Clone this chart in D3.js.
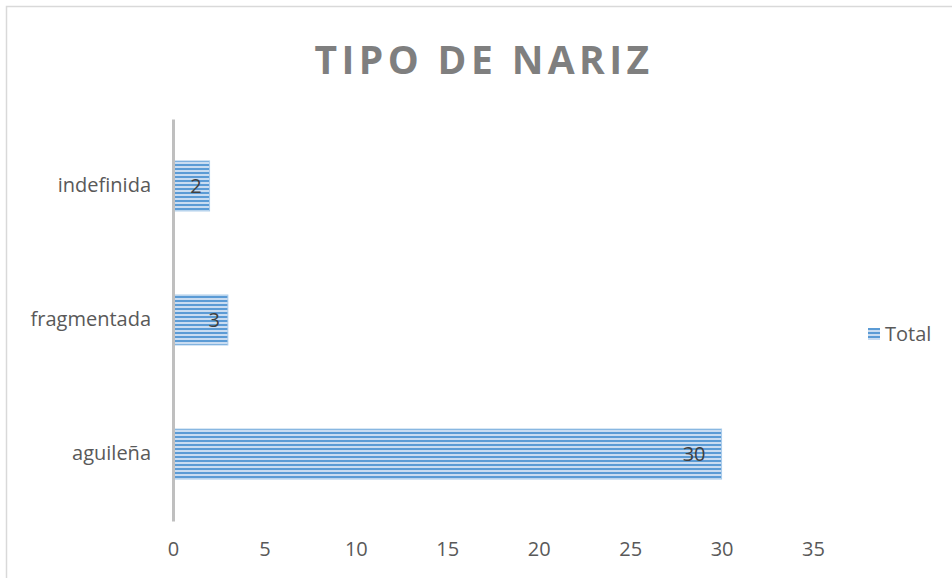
<!DOCTYPE html>
<html lang="es">
<head>
<meta charset="UTF-8">
<title>Tipo de nariz</title>
<script src="https://d3js.org/d3.v7.min.js"></script>
<style>
  body { margin: 0; background: #fff; }
  text { font-family: "Open Sans", "Noto Sans", sans-serif; fill: #595959; }
</style>
</head>
<body>
<div id="chart"></div>
<script>
// data
const categories = ["indefinida", "fragmentada", "aguileña"];
const totals = [2, 3, 30];
const xTicks = [0, 5, 10, 15, 20, 25, 30, 35];
const seriesName = "Total";
const chartTitle = "TIPO DE NARIZ";

const width = 952, height = 578;

const svg = d3.select("#chart").append("svg")
    .attr("width", width)
    .attr("height", height);

// striped fill like the original
const defs = svg.append("defs");
const pat = defs.append("pattern")
    .attr("id", "stripes")
    .attr("patternUnits", "userSpaceOnUse")
    .attr("width", 8).attr("height", 4);
pat.append("rect").attr("width", 8).attr("height", 4).attr("fill", "#c9dcf1");
pat.append("rect").attr("width", 8).attr("height", 2).attr("fill", "#5b9bd5");

// outer chart border
svg.append("rect")
    .attr("x", 6.5).attr("y", 6.5)
    .attr("width", width).attr("height", height)
    .attr("fill", "none")
    .attr("stroke", "#d9d9d9")
    .attr("stroke-width", 1.5);

// title
svg.append("text")
    .attr("x", 484).attr("y", 74)
    .attr("text-anchor", "middle")
    .style("font-size", "39px")
    .style("font-weight", "bold")
    .style("letter-spacing", "4.4px")
    .style("fill", "#7f7f7f")
    .text(chartTitle);

// scales
const x = d3.scaleLinear().domain([0, 35]).range([173, 813]);
const y = d3.scaleBand().domain(categories).range([119, 521]).paddingInner(0.627).paddingOuter(0.313);

// bars
svg.selectAll("rect.bar")
    .data(categories)
    .enter().append("rect")
    .attr("class", "bar")
    .attr("x", x(0))
    .attr("y", d => y(d))
    .attr("width", (d, i) => x(totals[i]) - x(0))
    .attr("height", y.bandwidth())
    .attr("fill", "url(#stripes)")
    .attr("stroke", "#a9cbea")
    .attr("stroke-width", 1);

// value labels
svg.selectAll("text.val")
    .data(categories)
    .enter().append("text")
    .attr("class", "val")
    .attr("x", (d, i) => x(totals[i]) - (totals[i] > 9 ? 16 : 8))
    .attr("y", d => y(d) + y.bandwidth() / 2)
    .attr("dy", "0.35em")
    .attr("text-anchor", "end")
    .style("font-size", "20px")
    .style("fill", "#404040")
    .text((d, i) => totals[i]);

// y axis (categories)
const yAxis = svg.append("g")
    .attr("transform", "translate(" + x(0) + ",0)")
    .call(d3.axisLeft(y).tickSize(0).tickPadding(22));
yAxis.select(".domain").attr("stroke", "#bfbfbf").attr("stroke-width", 3);
yAxis.selectAll("text").style("font-size", "20px").style("fill", "#595959")
    .style("font-family", "'Open Sans', sans-serif");

// x axis labels only
const xAxis = svg.append("g")
    .attr("transform", "translate(0,542)")
    .call(d3.axisBottom(x).tickValues(xTicks).tickSize(0).tickPadding(0));
xAxis.select(".domain").remove();
xAxis.selectAll("text").style("font-size", "20px").style("fill", "#595959")
    .style("font-family", "'Open Sans', sans-serif");

// legend
const leg = svg.append("g").attr("transform", "translate(868,328)");
leg.append("rect").attr("width", 12).attr("height", 12)
    .attr("fill", "url(#stripes)");
leg.append("text").attr("x", 17).attr("y", 6).attr("dy", "0.35em")
    .style("font-size", "20px").text(seriesName);
</script>
</body>
</html>
